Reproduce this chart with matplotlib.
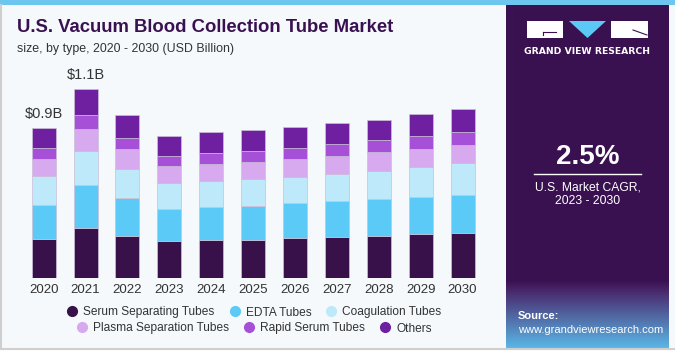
import numpy as np
import matplotlib.pyplot as plt
from matplotlib.patches import Rectangle, Polygon
from matplotlib.lines import Line2D
from matplotlib.colors import to_rgb

plt.rcParams['font.family'] = ['Liberation Sans', 'DejaVu Sans']

# values in USD billion
years = ['2020', '2021', '2022', '2023', '2024', '2025', '2026', '2027', '2028', '2029', '2030']
serum = [0.233, 0.294, 0.251, 0.219, 0.224, 0.227, 0.237, 0.243, 0.249, 0.259, 0.268]
edta = [0.198, 0.255, 0.222, 0.188, 0.196, 0.198, 0.206, 0.212, 0.218, 0.218, 0.224]
coagulation = [0.171, 0.198, 0.171, 0.151, 0.153, 0.157, 0.155, 0.161, 0.166, 0.176, 0.185]
plasma = [0.098, 0.131, 0.116, 0.100, 0.102, 0.102, 0.104, 0.106, 0.108, 0.106, 0.108]
rapid = [0.066, 0.082, 0.068, 0.062, 0.063, 0.066, 0.065, 0.067, 0.071, 0.076, 0.078]
others = [0.119, 0.153, 0.135, 0.116, 0.122, 0.120, 0.122, 0.124, 0.119, 0.129, 0.135]
value_labels = {0: '$0.9B', 1: '$1.1B'}

series = [
    ('Serum Separating Tubes', serum, '#38104A'),
    ('EDTA Tubes', edta, '#5BCAF6'),
    ('Coagulation Tubes', coagulation, '#BEE9FA'),
    ('Plasma Separation Tubes', plasma, '#D7A9EE'),
    ('Rapid Serum Tubes', rapid, '#A650D8'),
    ('Others', others, '#6F20A0'),
]

W, H = 675, 356
fig = plt.figure(figsize=(W / 100, H / 100), dpi=100)
fig.patch.set_facecolor('#F5F9FC')

# background layer in pixel coordinates
bg = fig.add_axes([0, 0, 1, 1], zorder=0)
bg.axis('off')

# right panel: solid purple fading to blue at the bottom
top_c = np.array(to_rgb('#3A1150'))
mid_c = np.array(to_rgb('#4A2C70'))
bot_c = np.array(to_rgb('#5BB8E8'))
rows = 343
grad = np.zeros((rows, 1, 3))
for i in range(rows):
    y = 5 + i
    if y < 280:
        grad[i, 0] = top_c
    elif y < 292:
        t = (y - 280) / 12
        grad[i, 0] = top_c + (mid_c - top_c) * t
    else:
        t = (y - 292) / (348 - 292)
        grad[i, 0] = mid_c + (bot_c - mid_c) * t
bg.imshow(grad, extent=[505.7, 668.3, 348, 5], aspect='auto', origin='upper',
          interpolation='bilinear', zorder=0)

bg.add_patch(Rectangle((0, 0), W, 5, color='#6CC6EE', lw=0))
bg.plot([0.8, 0.8], [5, 349], color='#CFCFCF', lw=1.5)
bg.plot([0, W], [349, 349], color='#CFCFCF', lw=1.5)
bg.add_patch(Rectangle((0, 350), W, 6, color='white', lw=0))

# logo
bg.add_patch(Rectangle((527, 21), 36, 17, facecolor='white', edgecolor='none', zorder=3))
bg.plot([543, 556], [32, 32], color='#3A1150', lw=0.8, zorder=4)
bg.plot([543, 543], [32, 35], color='#3A1150', lw=0.8, zorder=4)
bg.add_patch(Polygon([(569, 21), (606, 21), (587.5, 38)], facecolor='#5BC8F5', edgecolor='none', zorder=3))
bg.add_patch(Rectangle((611, 21), 37, 17, facecolor='white', edgecolor='none', zorder=3))
bg.plot([633, 647], [30, 35], color='#3A1150', lw=0.8, zorder=4)
bg.text(587.5, 51, 'GRAND VIEW RESEARCH', color='white', fontsize=6.7, fontweight='bold',
        ha='center', va='center', family='DejaVu Sans')

bg.text(587.5, 157, '2.5%', color='white', fontsize=20, fontweight='bold', ha='center', va='center')
bg.plot([534, 641], [173.5, 173.5], color='white', lw=1)
bg.text(587.5, 187, 'U.S. Market CAGR,', color='white', fontsize=8.7, ha='center', va='center')
bg.text(587.5, 201.5, '2023 - 2030', color='white', fontsize=8.7, ha='center', va='center')
bg.text(518, 316, 'Source:', color='white', fontsize=8, fontweight='bold', ha='left', va='center')
bg.text(518, 330, 'www.grandviewresearch.com', color='white', fontsize=8, ha='left', va='center')

# titles
bg.text(17, 28, 'U.S. Vacuum Blood Collection Tube Market', color='#3A1150', fontsize=13.3,
        fontweight='bold', ha='left', va='center')
bg.text(17, 49, 'size, by type, 2020 - 2030 (USD Billion)', color='#333333', fontsize=8.9,
        ha='left', va='center')

bg.set_xlim(0, W)
bg.set_ylim(H, 0)

# chart
step = 41.9
left_px = 43.7 - 0.6 * step
right_px = 462.5 + 0.6 * step
base_px = 278.3
px_per_b = 170
top_lim = 1.3
ax = fig.add_axes([left_px / W, 1 - base_px / H, (right_px - left_px) / W, top_lim * px_per_b / H], zorder=1)
ax.patch.set_alpha(0)

x = np.arange(len(years))
bottom = np.zeros(len(years))
for name, vals, color in series:
    ax.bar(x, vals, width=24 / step, bottom=bottom, color=color, edgecolor='#CBBFD8',
           linewidth=0.5, label=name)
    bottom += np.array(vals)

for i, txt in value_labels.items():
    ax.annotate(txt, (x[i], bottom[i]), xytext=(0, 5), textcoords='offset points',
                ha='center', va='bottom', fontsize=10.5, color='#333333')

ax.set_xlim(-0.6, len(years) - 1 + 0.6)
ax.set_ylim(0, top_lim)
ax.set_xticks(x)
ax.set_xticklabels(years, fontsize=9.5, color='#333333')
ax.tick_params(axis='x', length=0, pad=4)
ax.set_yticks([])
for s in ax.spines.values():
    s.set_visible(False)

# legend in two centred rows
def make_handles(items):
    return [Line2D([], [], marker='o', ls='', markersize=7, markerfacecolor=c, markeredgecolor=c)
            for _, _, c in items]

for items, ypx in [(series[:3], 312.5), (series[3:], 328.5)]:
    fig.legend(make_handles(items), [n for n, _, _ in items], ncol=3, loc='center',
               bbox_to_anchor=(254.5 / W, 1 - ypx / H), frameon=False, fontsize=8.6,
               handlelength=0.8, handletextpad=0.5, columnspacing=1.3, labelcolor='#333333',
               borderpad=0, borderaxespad=0)

fig.savefig('out.png', dpi=100, facecolor=fig.get_facecolor())
